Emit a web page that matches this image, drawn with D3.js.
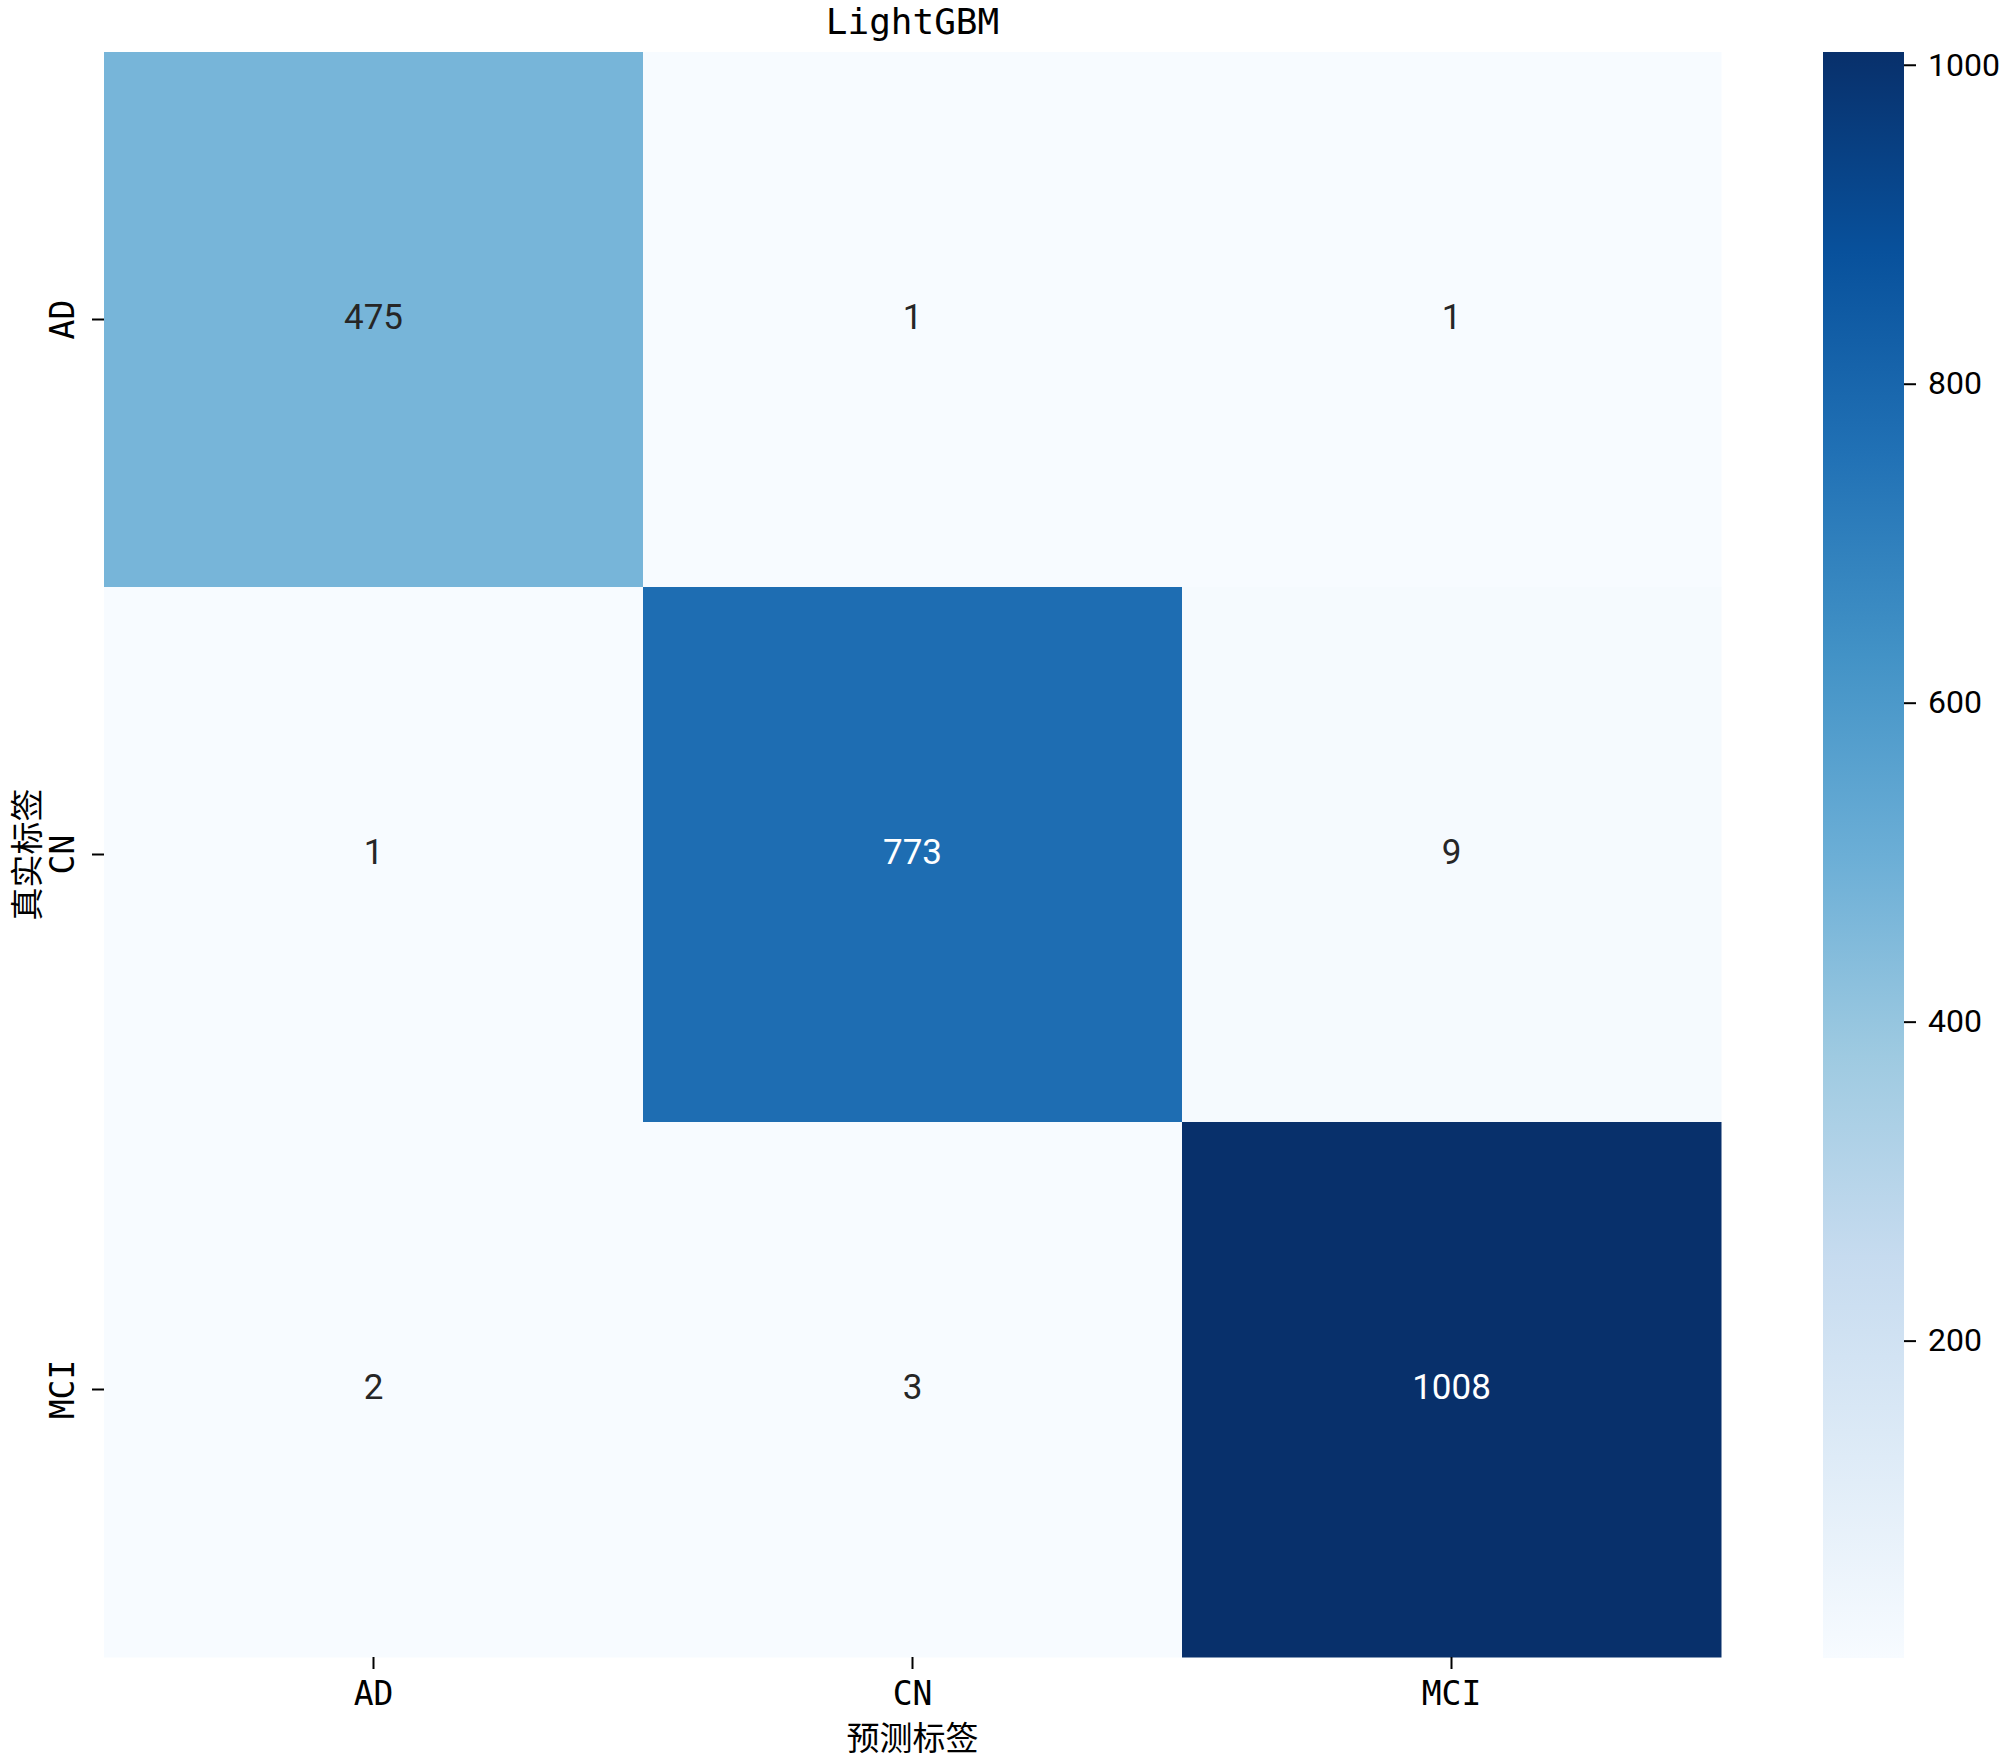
<!DOCTYPE html>
<html>
<head>
<meta charset="utf-8">
<script src="https://cdn.jsdelivr.net/npm/d3@7"></script>
<style>
  html, body { margin: 0; padding: 0; background: #fff; }
  svg { display: block; }
</style>
</head>
<body>
<svg id="chart" width="2000" height="1760"></svg>
<script>
// ---- data ----
const categories = ["AD", "CN", "MCI"];
const rowAD  = [475, 1, 1];
const rowCN  = [1, 773, 9];
const rowMCI = [2, 3, 1008];
const matrix = [rowAD, rowCN, rowMCI];
const colorbarTicks = [200, 400, 600, 800, 1000];
const titleText = "LightGBM";
const xLabel = "预测标签";
const yLabel = "真实标签";
const bluesStops = ["#f7fbff","#deebf7","#c6dbef","#9ecae1","#6baed6","#4292c6","#2171b5","#08519c","#08306b"];

// ---- layout ----
const svg = d3.select("#chart");
const plot = { left: 104, right: 1721, top: 52, bottom: 1657 };
const cbar = { left: 1823, right: 1904, top: 52, bottom: 1658 };
const latinFont = "'DejaVu Sans Mono', 'Noto Sans CJK SC', monospace";
const cjkFont = "'Noto Sans CJK SC', sans-serif";
const annFont = "Roboto, 'DejaVu Sans', sans-serif";

const flat = matrix.flat();
const vmin = d3.min(flat), vmax = d3.max(flat);

const color = d3.scaleLinear()
  .domain(bluesStops.map((_, i) => vmin + (vmax - vmin) * i / (bluesStops.length - 1)))
  .range(bluesStops)
  .interpolate(d3.interpolateRgb)
  .clamp(true);

const x = d3.scaleBand().domain(categories).range([plot.left, plot.right]).padding(0);
const y = d3.scaleBand().domain(categories).range([plot.top, plot.bottom]).padding(0);

const cells = [];
matrix.forEach((row, i) => row.forEach((v, j) => cells.push({ r: categories[i], c: categories[j], v })));

// cells
svg.append("g").selectAll("rect").data(cells).join("rect")
  .attr("x", d => x(d.c))
  .attr("y", d => y(d.r))
  .attr("width", x.bandwidth() + 0.5)
  .attr("height", y.bandwidth() + 0.5)
  .attr("fill", d => color(d.v));

// luminance for annotation color
function lum(c) {
  const rgb = d3.rgb(c);
  const f = v => { v /= 255; return v <= 0.03928 ? v / 12.92 : Math.pow((v + 0.055) / 1.055, 2.4); };
  return 0.2126 * f(rgb.r) + 0.7152 * f(rgb.g) + 0.0722 * f(rgb.b);
}

svg.append("g").selectAll("text").data(cells).join("text")
  .attr("x", d => x(d.c) + x.bandwidth() / 2)
  .attr("y", d => y(d.r) + y.bandwidth() / 2 - 2)
  .attr("text-anchor", "middle")
  .attr("dominant-baseline", "central")
  .attr("font-family", annFont)
  .attr("font-size", 35)
  .attr("fill", d => lum(color(d.v)) > 0.408 ? "#262626" : "#ffffff")
  .text(d => d.v);

// x axis
const xAxis = d3.axisBottom(x).tickSize(12).tickPadding(13);
const gx = svg.append("g").attr("transform", `translate(0,${plot.bottom})`).call(xAxis);
gx.select(".domain").remove();
gx.selectAll(".tick line").attr("stroke", "#000").attr("stroke-width", 2);
gx.selectAll(".tick text")
  .attr("font-family", latinFont).attr("font-size", 33).attr("fill", "#000")
  .attr("dy", "0.71em");

// y axis
const yAxis = d3.axisLeft(y).tickSize(12).tickPadding(0);
const gy = svg.append("g").attr("transform", `translate(${plot.left},0)`).call(yAxis);
gy.select(".domain").remove();
gy.selectAll(".tick line").attr("stroke", "#000").attr("stroke-width", 2);
gy.selectAll(".tick text")
  .attr("font-family", latinFont).attr("font-size", 33).attr("fill", "#000")
  .attr("x", null).attr("dy", null)
  .attr("text-anchor", "middle")
  .attr("transform", `translate(${74 - plot.left},0) rotate(-90)`);

// title
svg.append("text")
  .attr("x", (plot.left + plot.right) / 2).attr("y", 34)
  .attr("text-anchor", "middle")
  .attr("font-family", latinFont).attr("font-size", 36).attr("fill", "#000")
  .text(titleText);

// axis labels
svg.append("text")
  .attr("x", (plot.left + plot.right) / 2).attr("y", 1750)
  .attr("text-anchor", "middle")
  .attr("font-family", cjkFont).attr("font-size", 33).attr("fill", "#000")
  .text(xLabel);

svg.append("text")
  .attr("transform", `translate(39,${(plot.top + plot.bottom) / 2}) rotate(-90)`)
  .attr("text-anchor", "middle")
  .attr("font-family", cjkFont).attr("font-size", 33).attr("fill", "#000")
  .text(yLabel);

// colorbar
const cScale = d3.scaleLinear().domain([vmin, vmax]).range([cbar.bottom, cbar.top]);
const defs = svg.append("defs");
const grad = defs.append("linearGradient").attr("id", "cbgrad")
  .attr("x1", 0).attr("y1", 1).attr("x2", 0).attr("y2", 0);
grad.selectAll("stop").data(bluesStops).join("stop")
  .attr("offset", (d, i) => i / (bluesStops.length - 1))
  .attr("stop-color", d => d);
svg.append("rect")
  .attr("x", cbar.left).attr("y", cbar.top)
  .attr("width", cbar.right - cbar.left).attr("height", cbar.bottom - cbar.top)
  .attr("fill", "url(#cbgrad)");

const cAxis = d3.axisRight(cScale).tickValues(colorbarTicks).tickFormat(d3.format("d"))
  .tickSize(12).tickPadding(12);
const gc = svg.append("g").attr("transform", `translate(${cbar.right},0)`).call(cAxis);
gc.select(".domain").remove();
gc.selectAll(".tick line").attr("stroke", "#000").attr("stroke-width", 2);
gc.selectAll(".tick text")
  .attr("font-family", annFont).attr("font-size", 32).attr("fill", "#000");
</script>
</body>
</html>
